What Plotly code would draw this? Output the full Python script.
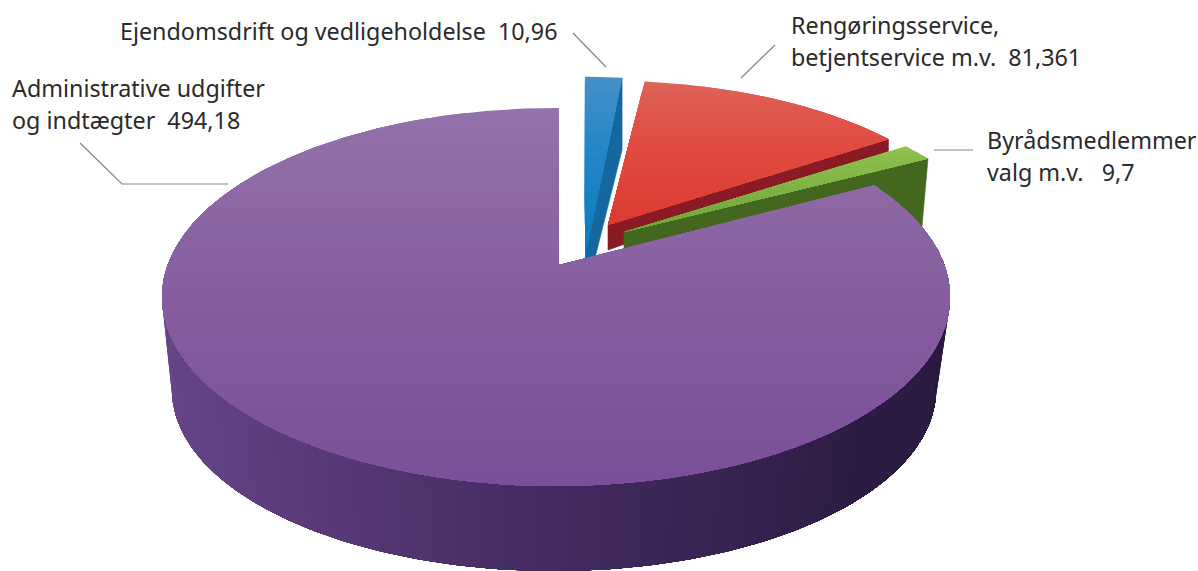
import numpy as np
import plotly.graph_objects as go

# ---------- data ----------
categories = ["Ejendomsdrift og vedligeholdelse", "Rengøringsservice, betjentservice m.v.",
              "Byrådsmedlemmer valg m.v.", "Administrative udgifter og indtægter"]
values = [10.96, 81.361, 9.7, 494.18]
label_lines = [
    ("Ejendomsdrift og vedligeholdelse\u00a0\u00a010,96", 120, 31),
    ("Rengøringsservice,", 791, 25),
    ("betjentservice m.v.\u00a0\u00a081,361", 791, 57),
    ("Byrådsmedlemmer", 987, 140),
    ("valg m.v.\u00a0\u00a0\u00a09,7", 987, 172),
    ("Administrative udgifter", 12, 88),
    ("og indtægter\u00a0\u00a0494,18", 12, 120),
]

# ---------- geometry of the tilted pie (screen pixels on the axes) ----------
W, H = 1198, 571
CX, CY, RX, RY = 556.0, 297.0, 394.0, 189.0     # top ellipse
BX, BY, BRX, BRY = 554.0, 390.0, 382.0, 181.0   # bottom ellipse
K = 32.0 / 189.0                                # perspective shift of pie centre
C0 = np.array([559.0, 265.0])                   # projected pie centre
ROT = 0.5

# apex, scale x/y, wall depth at apex / at rim, wall x-shift at rim
explode = [
    dict(apex=(585, 258), s=(0.97, 1.155), depth=(40, 72), dx=0),
    dict(apex=(608, 225), s=(0.96, 0.92), depth=(25, 12), dx=0),
    dict(apex=(624, 232), s=(0.965, 0.92), depth=(18, 68), dx=-6),
    dict(apex=(559, 265), s=(1.0, 1.0), depth=None, dx=0),
]
face_stops = [
    [(78, "#4490c9"), (160, "#2085c6"), (260, "#0a7ab9")],
    [(80, "#de6459"), (140, "#e14c42"), (230, "#da3a31")],
    [(145, "#8fc24f"), (235, "#6ea238")],
    [(108, "#9472ab"), (300, "#855d9e"), (490, "#795098")],
]
wall_colors = ["#12689f", "#8a1b24", "#43671f"]
side_stops = [(75, "#2a1a40"), (130, "#2c1c43"), (180, "#432a60"),
              (225, "#5c3d7c"), (285, "#6e4b8e")]
LEADER = "#85857c"
leaders = ["M573,33 L606,67", "M775,45 L741,78", "M934,150 L973,150",
           "M80,143 L122,184 L228,184"]


def hex2rgb(c):
    return np.array([int(c[i:i + 2], 16) for i in (1, 3, 5)], float)


def ramp(stops, v):
    xs = [s[0] for s in stops]
    cols = np.array([hex2rgb(s[1]) for s in stops])
    r = [np.interp(v, xs, cols[:, i]) for i in range(3)]
    return "rgb(%d,%d,%d)" % tuple(int(round(a)) for a in r)


def rim(theta_deg):
    t = np.radians(np.asarray(theta_deg, float) + ROT)
    x, y = np.sin(t), np.cos(t)
    d = 1 + K * y
    xp = x * np.sqrt(1 - K * K) / d
    yp = (y + K) / d
    return np.column_stack([CX + RX * xp, CY - RY * yp])


def clip_below(poly, t):
    """Part of a polygon with y >= t."""
    out = []
    n = len(poly)
    for i in range(n):
        a, b = poly[i], poly[(i + 1) % n]
        ia, ib = a[1] >= t, b[1] >= t
        if ia:
            out.append(a)
        if ia != ib:
            f = (t - a[1]) / (b[1] - a[1])
            out.append(a + f * (b - a))
    return np.array(out)


fig = go.Figure()


def add_poly(p, color, lw=0.6):
    fig.add_trace(go.Scatter(
        x=list(p[:, 0]) + [p[0, 0]], y=list(p[:, 1]) + [p[0, 1]],
        mode="lines", fill="toself", fillcolor=color,
        line=dict(color=color, width=lw), hoverinfo="skip", showlegend=False))


def add_face(poly, stops):
    y0, y1 = poly[:, 1].min(), poly[:, 1].max()
    ts = np.arange(y0, y1, 5.0)
    for i, t in enumerate(ts):
        p = poly if i == 0 else clip_below(poly, t)
        if len(p) >= 3:
            add_poly(p, ramp(stops, t + 2.5), lw=0)


# angles clockwise from 12 o'clock, from the values
total = sum(values)
edges = np.concatenate([[0], np.cumsum(values)]) / total * 360.0

polys = []
for i, e in enumerate(explode):
    a0, a1 = edges[i], edges[i + 1]
    th = np.linspace(a0, a1, max(4, int((a1 - a0) * 1.5)))
    apex = np.array(e["apex"], float)
    pts = apex + (rim(th) - C0) * np.array(e["s"])
    polys.append((apex, pts))

# exploded slices: wall behind, face on top
for i in range(3):
    apex, pts = polys[i]
    e = explode[i]
    end = pts[-1]
    wall = np.array([apex, end,
                     end + [e["dx"], e["depth"][1]],
                     apex + [0, e["depth"][0]]])
    add_poly(wall, wall_colors[i])
    add_face(np.vstack([apex, pts]), face_stops[i])

# big slice: outer wall painted strip over strip (no seams), then face
phis = np.linspace(285, 75, 141)
for a in phis[:-1]:
    arc = np.radians(np.linspace(a, 75, max(2, int(a - 75) + 2)))
    top = np.column_stack([CX + RX * np.sin(arc), CY - RY * np.cos(arc)])
    bot = np.column_stack([BX + BRX * np.sin(arc), BY - BRY * np.cos(arc)])
    add_poly(np.vstack([top, bot[::-1]]), ramp(side_stops, a), lw=0)

apex, pts = polys[3]
add_face(np.vstack([apex, pts]), face_stops[3])

shapes = [dict(type="path", path=p, xref="x", yref="y",
               line=dict(color=LEADER, width=1.2)) for p in leaders]
annotations = [dict(x=x, y=y, text=t, xref="x", yref="y", xanchor="left", yanchor="middle",
                    showarrow=False, xshift=-2,
                    font=dict(family="Noto Sans, Open Sans, sans-serif", size=23.3, color="#2a2a2a"))
               for t, x, y in label_lines]

fig.update_layout(
    width=W, height=H, margin=dict(l=0, r=0, t=0, b=0),
    paper_bgcolor="white", plot_bgcolor="white", showlegend=False,
    xaxis=dict(range=[0, W], visible=False, fixedrange=True),
    yaxis=dict(range=[H, 0], visible=False, fixedrange=True),
    shapes=shapes, annotations=annotations,
)
fig.write_html("out.html", config=dict(displayModeBar=False),
               post_script="document.body.style.margin='0';document.body.style.overflow='hidden';")
